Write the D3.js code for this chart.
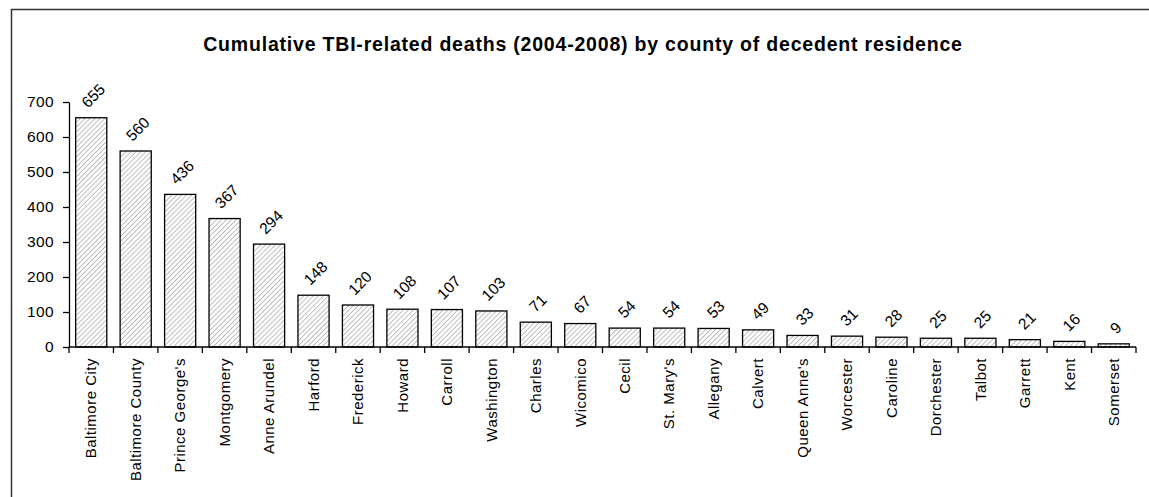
<!DOCTYPE html>
<html>
<head>
<meta charset="utf-8">
<script src="https://cdn.jsdelivr.net/npm/d3@7"></script>
<style>
  html, body { margin: 0; padding: 0; background: #fff; }
  svg { display: block; font-family: "Liberation Sans", Arial, sans-serif; }
</style>
</head>
<body>
<svg id="chart" width="1149" height="497"></svg>
<script>
// Counties of decedent residence, ordered by cumulative deaths
const counties = [
  "Baltimore City", "Baltimore County", "Prince George's", "Montgomery", "Anne Arundel",
  "Harford", "Frederick", "Howard", "Carroll", "Washington", "Charles", "Wicomico",
  "Cecil", "St. Mary's", "Allegany", "Calvert", "Queen Anne's", "Worcester",
  "Caroline", "Dorchester", "Talbot", "Garrett", "Kent", "Somerset"
];
// Cumulative TBI-related deaths, 2004-2008
const deaths = [655, 560, 436, 367, 294, 148, 120, 108, 107, 103, 71, 67,
                54, 54, 53, 49, 33, 31, 28, 25, 25, 21, 16, 9];
const yTicks = [0, 100, 200, 300, 400, 500, 600, 700];
const title = "Cumulative TBI-related deaths (2004-2008) by county of decedent residence";

const svg = d3.select("#chart");
const margin = { left: 69, right: 13, top: 102, bottom: 150 };
const W = 1149, H = 497;

// Chart frame (top and left edges)
svg.append("path")
  .attr("d", `M11.5,${H} L11.5,9.5 L${W},9.5`)
  .attr("fill", "none")
  .attr("stroke", "#333")
  .attr("stroke-width", 1.5);

// Diagonal hatch fill
const defs = svg.append("defs");
const pat = defs.append("pattern")
  .attr("id", "hatch")
  .attr("patternUnits", "userSpaceOnUse")
  .attr("width", 3.5).attr("height", 3.5)
  .attr("patternTransform", "rotate(45)");
pat.append("rect").attr("width", 3.5).attr("height", 3.5).attr("fill", "#fff");
pat.append("line")
  .attr("x1", 0).attr("y1", 0).attr("x2", 0).attr("y2", 3.5)
  .attr("stroke", "#8a8a8a").attr("stroke-width", 1.1);

const x = d3.scaleBand()
  .domain(counties)
  .range([margin.left, W - margin.right])
  .paddingInner(0.3)
  .paddingOuter(0.15);

const y = d3.scaleLinear()
  .domain([0, 700])
  .range([H - margin.bottom, margin.top]);

// Title
svg.append("text")
  .attr("x", 583).attr("y", 51)
  .attr("text-anchor", "middle")
  .attr("font-size", 19.5)
  .attr("font-weight", "bold")
  .attr("letter-spacing", 0.8)
  .attr("fill", "#000")
  .text(title);

// Bars
svg.append("g").selectAll("rect")
  .data(deaths)
  .join("rect")
  .attr("x", (d, i) => x(counties[i]))
  .attr("y", d => y(d))
  .attr("width", x.bandwidth())
  .attr("height", d => y(0) - y(d))
  .attr("fill", "url(#hatch)")
  .attr("stroke", "#000")
  .attr("stroke-width", 1.3);

// Y axis
const yAxis = svg.append("g")
  .attr("transform", `translate(${margin.left},0)`)
  .call(d3.axisLeft(y).tickValues(yTicks).tickSize(6).tickPadding(9).tickSizeOuter(0));
yAxis.selectAll("text").attr("font-size", 15.5).attr("letter-spacing", 0.4).attr("fill", "#000")
  .attr("font-family", "Liberation Sans, Arial, sans-serif");
yAxis.selectAll("line, path").attr("stroke", "#000").attr("stroke-width", 1.3);

// X axis with ticks at category boundaries
const xAxisG = svg.append("g").attr("transform", `translate(0,${y(0)})`);
xAxisG.append("line")
  .attr("x1", margin.left).attr("x2", W - margin.right)
  .attr("stroke", "#000").attr("stroke-width", 1.3);
const step = x.step();
const boundaries = d3.range(counties.length + 1).map(i => x(counties[0]) - x.paddingOuter() * step + i * step);
xAxisG.selectAll("line.tick")
  .data(boundaries)
  .join("line")
  .attr("class", "tick")
  .attr("x1", d => d).attr("x2", d => d)
  .attr("y1", 0).attr("y2", 6)
  .attr("stroke", "#000").attr("stroke-width", 1.3);

// Category labels, rotated
svg.append("g").selectAll("text")
  .data(counties)
  .join("text")
  .attr("transform", d => `translate(${x(d) + x.bandwidth() / 2},358) rotate(-90)`)
  .attr("text-anchor", "end")
  .attr("dy", "0.35em")
  .attr("font-size", 15)
  .attr("letter-spacing", 0.5)
  .attr("fill", "#000")
  .text(d => d);

// Value labels, rotated 45 degrees above each bar
const fs = 15.5;
svg.append("g").selectAll("text")
  .data(deaths)
  .join("text")
  .attr("text-anchor", "middle")
  .attr("dy", "0.35em")
  .attr("font-size", fs)
  .attr("fill", "#000")
  .text(d => d)
  .each(function (d, i) {
    const len = this.getComputedTextLength();
    const half = (len + fs * 0.72) * Math.SQRT1_2 / 2;
    const cx = x(counties[i]) + x.bandwidth() / 2 + 2;
    const cy = y(d) - 9 - half;
    d3.select(this).attr("transform", `translate(${cx},${cy}) rotate(-45)`);
  });
</script>
</body>
</html>
